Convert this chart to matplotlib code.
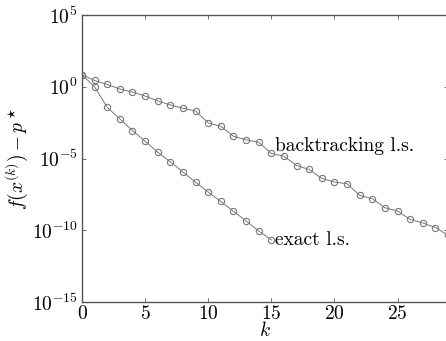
import matplotlib
matplotlib.use("Agg")
import matplotlib.pyplot as plt
import numpy as np

plt.rcParams['mathtext.fontset'] = 'cm'
plt.rcParams['font.family'] = ['cmr10', 'DejaVu Serif']
plt.rcParams['axes.formatter.use_mathtext'] = True

# log10 of f(x^(k)) - p*
k_exact = list(range(16))
log_exact = [0.83, 0.0, -1.44, -2.24, -3.06, -3.80, -4.56, -5.23, -5.95,
             -6.65, -7.34, -7.99, -8.68, -9.35, -10.05, -10.67]

k_back = list(range(31))
log_back = [0.83, 0.44, 0.16, -0.16, -0.37, -0.65, -0.99, -1.27, -1.50, -1.69,
            -2.52, -2.75, -3.45, -3.70, -3.87, -4.65, -4.84, -5.49, -5.76,
            -6.39, -6.64, -6.76, -7.57, -7.80, -8.43, -8.66, -9.24, -9.49,
            -9.81, -10.35, -10.6]

exact = 10.0 ** np.array(log_exact)
back = 10.0 ** np.array(log_back)

fig = plt.figure(figsize=(4.46, 3.41), dpi=100)
ax = fig.add_axes([82/446, 39/341, 366/446, 287/341])

style = dict(color='#777777', lw=0.7, marker='o', ms=4.5, mfc='none', mec='#777777', mew=0.8)
ax.semilogy(k_exact, exact, **style)
ax.semilogy(k_back, back, **style)

ax.set_xlim(0, 29)
ax.set_ylim(1e-15, 1e5)
ax.set_yticks([1e-15, 1e-10, 1e-5, 1e0, 1e5])
ax.yaxis.set_minor_locator(matplotlib.ticker.NullLocator())
ax.set_xticks([0, 5, 10, 15, 20, 25])
ax.tick_params(direction='in', top=True, right=True, labelsize=14, length=3,
               width=0.6, color='#555555', pad=3)
ax.tick_params(axis='x', pad=2)
for s in ax.spines.values():
    s.set_color('#555555')
    s.set_linewidth(1.0)

ax.text(15.3, 10**-4.1, 'backtracking l.s.', fontsize=14, va='center', ha='left')
ax.text(15.3, 10**-10.67, 'exact l.s.', fontsize=14, va='center', ha='left')

ax.set_xlabel('$k$', fontsize=14, labelpad=-1)
ax.set_ylabel(r'$f(x^{(k)})-p^\star$', fontsize=14, labelpad=1)

fig.savefig('out.png', dpi=100)
